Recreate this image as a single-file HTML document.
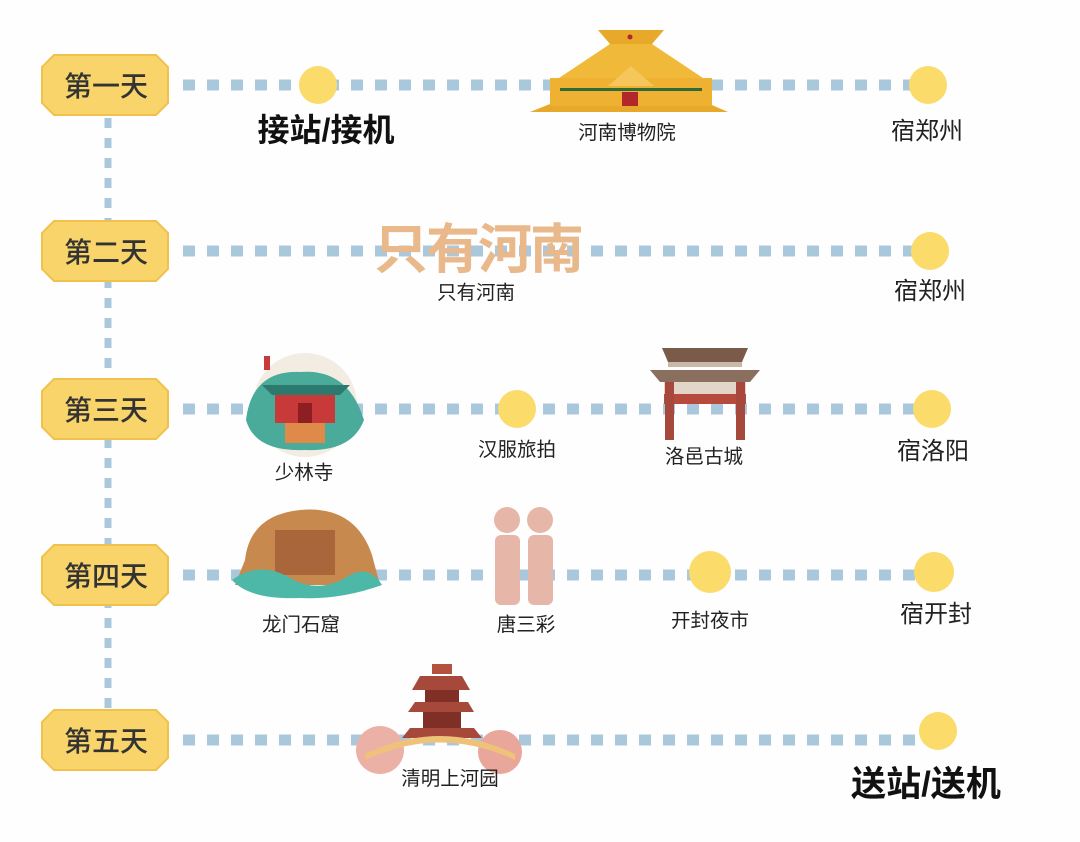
<!DOCTYPE html>
<html><head><meta charset="utf-8"><style>
html,body{margin:0;padding:0;background:#fff;}
svg{display:block;}
text{font-family:"Liberation Sans","Noto Sans CJK SC",sans-serif;}
</style></head><body>
<svg width="1080" height="842" viewBox="0 0 1080 842" xmlns="http://www.w3.org/2000/svg">
<rect width="1080" height="842" fill="#fefefe"/>
<line x1="108" y1="118" x2="108" y2="712" stroke="#a9c8dc" stroke-width="7" stroke-dasharray="10 10"/>
<g stroke="#a9c8dc" stroke-width="11" stroke-dasharray="12 12">
<line x1="183" y1="85" x2="915" y2="85"/>
<line x1="183" y1="251" x2="915" y2="251"/>
<line x1="183" y1="409" x2="915" y2="409"/>
<line x1="183" y1="575" x2="915" y2="575"/>
<line x1="183" y1="740" x2="915" y2="740"/>
</g>
<g fill="#f8d46a" stroke="#f0c24c" stroke-width="2">
<polygon points="54,55 156,55 168,67 168,103 156,115 54,115 42,103 42,67"/>
<polygon points="54,221 156,221 168,233 168,269 156,281 54,281 42,269 42,233"/>
<polygon points="54,379 156,379 168,391 168,427 156,439 54,439 42,427 42,391"/>
<polygon points="54,545 156,545 168,557 168,593 156,605 54,605 42,593 42,557"/>
<polygon points="54,710 156,710 168,722 168,758 156,770 54,770 42,758 42,722"/>
</g>
<g font-size="28" fill="#333" text-anchor="middle" font-weight="500">
<text x="106" y="96">第一天</text>
<text x="106" y="262">第二天</text>
<text x="106" y="420">第三天</text>
<text x="106" y="586">第四天</text>
<text x="106" y="751">第五天</text>
</g>
<g fill="#fbdb6a">
<circle cx="318" cy="85" r="19"/>
<circle cx="928" cy="85" r="19"/>
<circle cx="930" cy="251" r="19"/>
<circle cx="517" cy="409" r="19"/>
<circle cx="932" cy="409" r="19"/>
<circle cx="710" cy="572" r="21"/>
<circle cx="934" cy="572" r="20"/>
<circle cx="938" cy="731" r="19"/>
</g>
<!-- museum -->
<g>
<polygon points="530,112 728,112 705,102 555,102" fill="#e8a829"/>
<polygon points="598,30 664,30 652,44 610,44" fill="#e8a829"/>
<polygon points="610,44 652,44 706,80 556,80" fill="#f0b93a"/>
<rect x="550" y="78" width="162" height="28" fill="#eeb132"/>
<rect x="560" y="88" width="142" height="3" fill="#2f6a3a"/>
<polygon points="631,66 608,86 654,86" fill="#f5c75a"/>
<rect x="622" y="92" width="16" height="14" fill="#b3262a"/>
<circle cx="630" cy="37" r="2.5" fill="#b3262a"/>
</g>
<text x="478" y="268" font-size="54" font-weight="bold" fill="#e9b98c" text-anchor="middle" font-family="Liberation Serif,'Noto Serif CJK SC',serif" letter-spacing="-2">只有河南</text>
<!-- shaolin -->
<g>
<circle cx="305" cy="405" r="52" fill="#f3ece3"/>
<path d="M246 420 Q252 370 300 372 Q348 368 364 420 Q352 452 305 450 Q255 452 246 420Z" fill="#4bab9b"/>
<polygon points="262,385 350,385 340,395 272,395" fill="#2c7a6e"/>
<rect x="275" y="395" width="60" height="28" fill="#c8393a"/>
<rect x="298" y="403" width="14" height="20" fill="#8d1f22"/>
<rect x="285" y="423" width="40" height="20" fill="#e08a4a"/>
<rect x="264" y="356" width="6" height="14" fill="#c8393a"/>
</g>
<!-- gate -->
<g>
<polygon points="662,348 748,348 742,362 668,362" fill="#7a5a48"/>
<rect x="668" y="362" width="74" height="5" fill="#c9b8a8"/>
<polygon points="650,370 760,370 750,382 660,382" fill="#8b6f5e"/>
<rect x="664" y="382" width="82" height="12" fill="#e2d6c8"/>
<rect x="664" y="394" width="82" height="10" fill="#b64a3c"/>
<rect x="665" y="382" width="9" height="58" fill="#a7483c"/>
<rect x="736" y="382" width="9" height="58" fill="#a7483c"/>
</g>
<!-- longmen -->
<g>
<path d="M245 560 Q250 515 300 510 Q355 505 372 555 L380 585 L235 585Z" fill="#c8894e"/>
<rect x="275" y="530" width="60" height="45" fill="#a8663a"/>
<path d="M232 580 Q260 560 290 578 Q320 595 350 575 Q370 565 382 585 Q340 600 300 598 Q250 600 232 580Z" fill="#4db8a8"/>
</g>
<g fill="#e6b7a8">
<circle cx="507" cy="520" r="13"/><circle cx="540" cy="520" r="13"/>
<rect x="495" y="535" width="25" height="70" rx="6"/>
<rect x="528" y="535" width="25" height="70" rx="6"/>
</g>
<!-- pagoda bridge -->
<g>
<circle cx="380" cy="750" r="24" fill="#ecb1a6"/>
<circle cx="500" cy="752" r="22" fill="#e9a69b"/>
<rect x="432" y="664" width="20" height="10" fill="#b5523f"/>
<polygon points="420,676 462,676 470,690 412,690" fill="#a6493a"/>
<rect x="425" y="690" width="34" height="12" fill="#7f2f26"/>
<polygon points="415,702 468,702 474,712 408,712" fill="#a6493a"/>
<rect x="423" y="712" width="38" height="18" fill="#7f2f26"/>
<polygon points="410,728 474,728 482,738 402,738" fill="#a6493a"/>
<path d="M365 760 Q440 725 515 760 L515 754 Q440 718 365 754Z" fill="#efc27a"/>
</g>
<g fill="#111" text-anchor="middle" font-weight="bold">
<text x="326" y="141" font-size="32">接站/接机</text>
<text x="926" y="796" font-size="35">送站/送机</text>
</g>
<g fill="#222" text-anchor="middle" font-size="24">
<text x="927" y="139">宿郑州</text>
<text x="930" y="299">宿郑州</text>
<text x="933" y="459">宿洛阳</text>
<text x="936" y="622">宿开封</text>
</g>
<g fill="#222" text-anchor="middle" font-size="19.5">
<text x="627" y="139">河南博物院</text>
<text x="476" y="299">只有河南</text>
<text x="304" y="479">少林寺</text>
<text x="517" y="456">汉服旅拍</text>
<text x="704" y="463">洛邑古城</text>
<text x="301" y="631">龙门石窟</text>
<text x="526" y="631">唐三彩</text>
<text x="710" y="627">开封夜市</text>
<text x="450" y="785">清明上河园</text>
</g>
</svg>
</body></html>
